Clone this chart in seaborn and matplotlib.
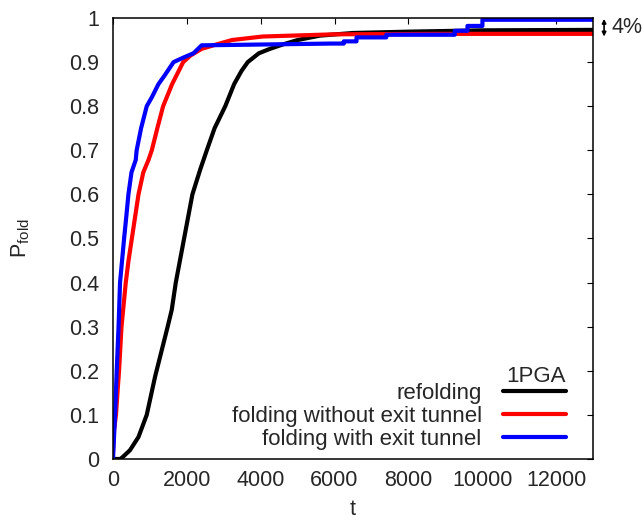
import numpy as np
import pandas as pd
import matplotlib
matplotlib.use("Agg")
import matplotlib.pyplot as plt
import seaborn as sns

sns.set_style("white")
plt.rcParams["font.family"] = ["Liberation Sans", "DejaVu Sans"]

# refolding
black_t = [0, 200, 270, 460, 690, 913, 1140, 1480, 1590, 1700, 1925, 2150, 2360, 2540, 2750,
           3040, 3280, 3480, 3650, 3950, 4250, 4600, 5000, 5600, 6500, 8000, 10000, 13000]
black_p = [0, 0, 0.005, 0.02, 0.05, 0.1, 0.187, 0.3, 0.338, 0.4, 0.5, 0.6, 0.656, 0.7, 0.75,
           0.8, 0.85, 0.88, 0.9, 0.92, 0.93, 0.94, 0.95, 0.96, 0.966, 0.969, 0.972, 0.973]
# folding without exit tunnel
red_t = [0, 20, 80, 120, 163, 230, 345, 420, 510, 600, 690, 820, 960, 1050, 1200, 1357,
         1600, 1900, 2100, 2400, 2800, 3220, 4050, 6000, 9000, 13000]
red_p = [0.02, 0.06, 0.1, 0.15, 0.2, 0.3, 0.4, 0.45, 0.5, 0.55, 0.6, 0.65, 0.678, 0.7, 0.75,
         0.8, 0.85, 0.9, 0.915, 0.93, 0.94, 0.95, 0.958, 0.963, 0.964, 0.964]
# folding with exit tunnel
blue_t = [0, 55, 100, 150, 190, 300, 360, 417, 500, 615, 640, 760, 913, 1050, 1230, 1400,
          1640, 1900, 2180, 2400, 5900,
          6250, 6250, 6595, 6595, 7400, 7400, 9255, 9255, 9600, 9600, 10005, 10005, 13000]
blue_p = [0.0, 0.1, 0.2, 0.3, 0.4, 0.5, 0.55, 0.6, 0.65, 0.678, 0.7, 0.75, 0.8, 0.82, 0.85, 0.87,
          0.9, 0.91, 0.92, 0.938, 0.942,
          0.942, 0.947, 0.947, 0.956, 0.956, 0.962, 0.962, 0.971, 0.971, 0.982, 0.982, 0.996, 0.996]

labels = ["refolding", "folding without exit tunnel", "folding with exit tunnel"]
colors = {"refolding": "black", "folding without exit tunnel": "#ff0000",
          "folding with exit tunnel": "#0000ff"}

df = pd.concat([
    pd.DataFrame({"t": black_t, "P": black_p, "run": labels[0]}),
    pd.DataFrame({"t": red_t, "P": red_p, "run": labels[1]}),
    pd.DataFrame({"t": blue_t, "P": blue_p, "run": labels[2]}),
], ignore_index=True)

fs = 15.5
fig = plt.figure(figsize=(6.44, 5.23), dpi=100)
ax = fig.add_axes([0.1755, 0.1224, 0.7453, 0.8432])
sns.lineplot(data=df, x="t", y="P", hue="run", hue_order=labels, palette=colors,
             estimator=None, sort=False, linewidth=3, ax=ax)

ax.set_xlim(0, 13000)
ax.set_ylim(0, 1)
ax.set_xticks(range(0, 13000, 2000))
ax.set_yticks(np.arange(0, 1.01, 0.1))
ax.set_yticklabels(["0", "0.1", "0.2", "0.3", "0.4", "0.5", "0.6", "0.7", "0.8", "0.9", "1"])
ax.tick_params(direction="in", top=True, right=True, length=4.5, width=0.8,
               labelsize=fs, color="black")
ax.tick_params(axis="y", pad=10)
ax.tick_params(axis="x", pad=8)
for s in ax.spines.values():
    s.set_color("black")
    s.set_linewidth(1.1)

ax.set_xlabel("t", fontsize=fs, labelpad=6)
ax.set_ylabel(r"P$_\mathregular{fold}$", fontsize=fs, labelpad=27)

ax.legend(loc="lower right", bbox_to_anchor=(0.944, 0.02), frameon=False,
          markerfirst=False, handlelength=2.85, handletextpad=0.95, labelspacing=0.1,
          borderpad=0, borderaxespad=0, fontsize=16)
ax.text(0.881, 0.186, "1PGA", transform=ax.transAxes, ha="center", va="center", fontsize=16)

ax.annotate("", xy=(13300, 0.998), xytext=(13300, 0.958), annotation_clip=False,
            arrowprops=dict(arrowstyle="<|-|>", color="black", lw=1.2,
                            mutation_scale=6, shrinkA=0, shrinkB=0))
ax.text(13500, 0.978, "4%", ha="left", va="center", fontsize=fs, clip_on=False)

fig.savefig("out.png", dpi=100)
